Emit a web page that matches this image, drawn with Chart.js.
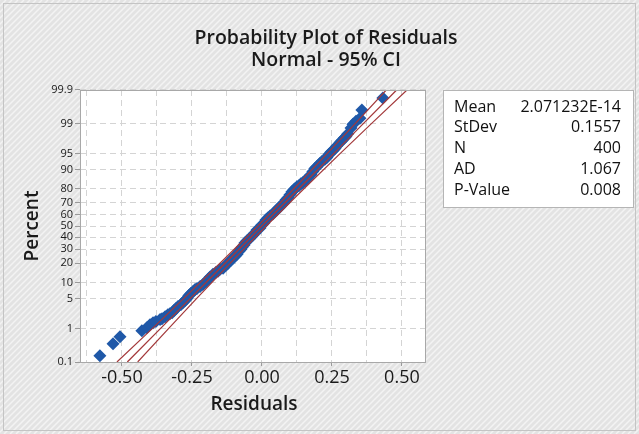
<!DOCTYPE html>
<html lang="en">
<head>
<meta charset="UTF-8" />
<title>Probability Plot of Residuals</title>
<script src="https://cdn.jsdelivr.net/npm/chart.js"></script>
<style>
  body { margin: 0; background: #fff; }
  #wrap { width: 639px; height: 434px; }
</style>
</head>
<body>
<div id="wrap"><canvas id="probPlot" width="639" height="434"></canvas></div>
<script>
// residuals, with the percent they are plotted at
const residuals = [-0.579, -0.532, -0.507, -0.429, -0.411, -0.400, -0.389, -0.379, -0.364, -0.357,
  -0.346, -0.336, -0.329, -0.321, -0.314, -0.307, -0.300, -0.289, -0.282, -0.275,
  -0.268, -0.261, -0.254, -0.246, -0.239, -0.232, -0.221, -0.211, -0.200, -0.189,
  -0.186, -0.175, -0.164, -0.157, -0.150, -0.139, -0.129, -0.121, -0.111, -0.104,
  -0.096, -0.089, -0.082, -0.075, -0.071, -0.064, -0.061, -0.054, -0.046, -0.039,
  -0.032, -0.025, -0.018, -0.007, 0.000, 0.007, 0.014, 0.021, 0.029, 0.039,
  0.046, 0.054, 0.061, 0.064, 0.071, 0.079, 0.086, 0.093, 0.100, 0.107,
  0.114, 0.118, 0.125, 0.132, 0.139, 0.146, 0.154, 0.164, 0.175, 0.182,
  0.189, 0.196, 0.207, 0.214, 0.225, 0.232, 0.239, 0.246, 0.254, 0.261,
  0.268, 0.279, 0.286, 0.293, 0.300, 0.307, 0.318, 0.325, 0.336, 0.350,
  0.357, 0.432];
const percents = [0.16, 0.37, 0.59, 0.87, 1.04, 1.25, 1.40, 1.49, 1.67, 1.76,
  1.97, 2.20, 2.32, 2.45, 2.73, 3.03, 3.36, 3.71, 4.10, 4.52,
  4.97, 5.72, 6.26, 6.85, 7.47, 7.80, 8.49, 9.22, 10.4, 11.7,
  12.2, 13.6, 14.6, 15.2, 16.3, 16.8, 18.6, 19.9, 21.8, 23.2,
  24.6, 26.1, 28.4, 29.9, 31.5, 33.2, 34.9, 36.6, 38.3, 40.1,
  41.8, 43.6, 46.3, 48.2, 50.9, 52.7, 55.5, 57.3, 59.0, 60.8,
  62.6, 64.3, 66.0, 66.8, 68.5, 70.1, 72.4, 73.9, 76.1, 78.2,
  79.5, 80.1, 81.4, 82.0, 83.2, 83.7, 84.8, 86.4, 87.8, 89.2,
  90.4, 91.1, 92.2, 92.9, 93.5, 94.0, 94.8, 95.3, 95.7, 96.1,
  96.6, 97.1, 97.4, 97.7, 97.9, 98.2, 98.7, 98.96, 99.13, 99.28,
  99.58, 99.82];

// fitted line and 95% CI bounds, read at a few percent levels
const linePercents = [0.1, 1, 5, 20, 50, 80, 95, 99, 99.9];
const fitLine = [-0.481, -0.362, -0.256, -0.131, 0, 0.131, 0.256, 0.362, 0.481];
const ciLower = [-0.518, -0.391, -0.279, -0.149, -0.015, 0.113, 0.233, 0.333, 0.444];
const ciUpper = [-0.444, -0.333, -0.233, -0.113, 0.015, 0.149, 0.279, 0.391, 0.518];

const yTickPercents = [0.1, 1, 5, 10, 20, 30, 40, 50, 60, 70, 80, 90, 95, 99, 99.9];
const xTicks = [-0.625, -0.5, -0.375, -0.25, -0.125, 0, 0.125, 0.25, 0.375, 0.5];

const statLabels = ["Mean", "StDev", "N", "AD", "P-Value"];
const statValues = ["2.071232E-14", "0.1557", "400", "1.067", "0.008"];

const FONT = '"Open Sans", "Noto Sans", sans-serif';

// inverse normal cdf (Acklam), used for the probability axis
function probit(p) {
  const a = [-3.969683028665376e+01, 2.209460984245205e+02, -2.759285104469687e+02, 1.383577518672690e+02, -3.066479806614716e+01, 2.506628277459239e+00];
  const b = [-5.447609879822406e+01, 1.615858368580409e+02, -1.556989798598866e+02, 6.680131188771972e+01, -1.328068155288572e+01];
  const c = [-7.784894002430293e-03, -3.223964580411365e-01, -2.400758277161838e+00, -2.549732539343734e+00, 4.374664141464968e+00, 2.938163982698783e+00];
  const d = [7.784695709041462e-03, 3.224671290700398e-01, 2.445134137142996e+00, 3.754408661907416e+00];
  const pl = 0.02425;
  let q, r;
  if (p < pl) {
    q = Math.sqrt(-2 * Math.log(p));
    return (((((c[0]*q+c[1])*q+c[2])*q+c[3])*q+c[4])*q+c[5]) / ((((d[0]*q+d[1])*q+d[2])*q+d[3])*q+1);
  }
  if (p > 1 - pl) {
    q = Math.sqrt(-2 * Math.log(1 - p));
    return -(((((c[0]*q+c[1])*q+c[2])*q+c[3])*q+c[4])*q+c[5]) / ((((d[0]*q+d[1])*q+d[2])*q+d[3])*q+1);
  }
  q = p - 0.5; r = q * q;
  return (((((a[0]*r+a[1])*r+a[2])*r+a[3])*r+a[4])*r+a[5])*q / (((((b[0]*r+b[1])*r+b[2])*r+b[3])*r+b[4])*r+1);
}

const pts = residuals.map((r, i) => ({ x: r, y: probit(percents[i] / 100) }));
const toLine = arr => arr.map((v, i) => ({ x: v, y: probit(linePercents[i] / 100) }));

function isMajor(v) {
  return Math.abs(v * 4 - Math.round(v * 4)) < 1e-9;
}

// hatched background, white plot area, stats box
const backdrop = {
  id: 'backdrop',
  beforeDraw(chart) {
    const { ctx, width, height, chartArea: ca } = chart;
    ctx.save();
    ctx.fillStyle = '#e3e3e3';
    ctx.fillRect(0, 0, width, height);
    ctx.strokeStyle = '#f3f3f3';
    ctx.lineWidth = 1.5;
    ctx.beginPath();
    for (let k = -height; k < width; k += 6) {
      ctx.moveTo(k, height);
      ctx.lineTo(k + height, 0);
    }
    ctx.stroke();
    ctx.strokeStyle = '#c4c4c4';
    ctx.lineWidth = 1;
    ctx.strokeRect(3.5, 3.5, width - 7, height - 7);
    ctx.fillStyle = '#fff';
    ctx.fillRect(ca.left, ca.top, ca.right - ca.left, ca.bottom - ca.top);

    // stats box
    ctx.fillStyle = '#fff';
    ctx.fillRect(443, 90, 190, 117);
    ctx.strokeStyle = '#b5b5b5';
    ctx.strokeRect(443.5, 90.5, 190, 117);
    ctx.fillStyle = '#111';
    ctx.font = '16px ' + FONT;
    ctx.textBaseline = 'middle';
    statLabels.forEach((lab, i) => {
      const y = 107 + i * 20.8;
      ctx.textAlign = 'left';
      ctx.fillText(lab, 454, y);
      ctx.textAlign = 'right';
      ctx.fillText(statValues[i], 621, y);
    });
    ctx.restore();
  },
  afterDraw(chart) {
    const { ctx, chartArea: ca } = chart;
    ctx.save();
    ctx.strokeStyle = '#a8a8a8';
    ctx.lineWidth = 1;
    ctx.strokeRect(ca.left + 0.5, ca.top + 0.5, ca.right - ca.left - 1, ca.bottom - ca.top);

    ctx.fillStyle = '#1a1a1a';
    ctx.textAlign = 'center';
    ctx.textBaseline = 'middle';
    ctx.font = '600 19.5px ' + FONT;
    ctx.fillText('Probability Plot of Residuals', 326, 38);
    ctx.fillText('Normal - 95% CI', 326, 60);

    ctx.font = '600 19px ' + FONT;
    ctx.fillText('Residuals', 254, 405);
    ctx.translate(33, 226);
    ctx.rotate(-Math.PI / 2);
    ctx.font = '600 19px ' + FONT;
    ctx.fillText('Percent', 0, 0);
    ctx.restore();
  }
};

new Chart(document.getElementById('probPlot'), {
  type: 'scatter',
  data: {
    datasets: [
      { data: toLine(fitLine), showLine: true, borderColor: '#a3383a', borderWidth: 1.3, pointRadius: 0 },
      { data: toLine(ciLower), showLine: true, borderColor: '#a3383a', borderWidth: 1.2, pointRadius: 0 },
      { data: toLine(ciUpper), showLine: true, borderColor: '#a3383a', borderWidth: 1.2, pointRadius: 0 },
      { data: pts, pointStyle: 'rectRot', pointRadius: 6.5, backgroundColor: '#1f58a8', borderWidth: 0 }
    ]
  },
  options: {
    responsive: false,
    animation: false,
    layout: { padding: { left: 0, top: 90, right: 213, bottom: 0 } },
    plugins: { legend: { display: false }, tooltip: { enabled: false } },
    scales: {
      x: {
        type: 'linear',
        min: -0.65,
        max: 0.586,
        afterFit: s => { s.height = 72; },
        afterBuildTicks: s => { s.ticks = xTicks.map(v => ({ value: v })); },
        grid: {
          color: '#d4d4d4',
          tickLength: 4,
          tickColor: c => (c.tick && isMajor(c.tick.value)) ? '#9a9a9a' : 'rgba(0,0,0,0)'
        },
        border: { display: false, dash: [6, 4] },
        ticks: {
          autoSkip: false,
          maxRotation: 0,
          padding: 1,
          color: '#1a1a1a',
          font: { family: FONT, size: 18 },
          callback: v => isMajor(v) ? v.toFixed(2) : ''
        }
      },
      y: {
        type: 'linear',
        min: probit(0.001),
        max: probit(0.999),
        afterFit: s => { s.width = 80; },
        afterBuildTicks: s => { s.ticks = yTickPercents.map(p => ({ value: probit(p / 100) })); },
        grid: { color: '#d4d4d4', tickLength: 5, tickColor: '#9a9a9a' },
        border: { display: false, dash: [6, 4] },
        ticks: {
          autoSkip: false,
          padding: 2,
          color: '#1a1a1a',
          font: { family: FONT, size: 11 },
          callback: (v, i) => String(yTickPercents[i])
        }
      }
    }
  },
  plugins: [backdrop]
});
</script>
</body>
</html>
